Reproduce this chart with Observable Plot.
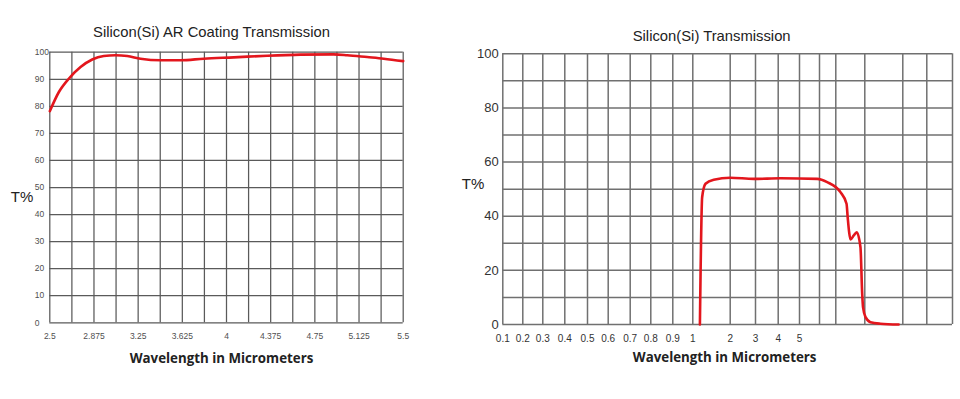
<!DOCTYPE html>
<html><head><meta charset="utf-8">
<script src="https://cdn.jsdelivr.net/npm/d3@7"></script>
<script src="https://cdn.jsdelivr.net/npm/@observablehq/plot@0.6"></script>
<style>
html,body{margin:0;padding:0;background:#fff;}
#wrap{display:flex;width:960px;height:399px;overflow:hidden;}
#wrap svg{display:block;flex:none;}
</style></head><body><div id="wrap"></div>
<script>
// ---------- Left chart: Silicon(Si) AR Coating Transmission ----------
const arTitle = "Silicon(Si) AR Coating Transmission";
const arWavelength = [2.5, 2.576, 2.661, 2.761, 2.86, 2.958, 3.058, 3.157, 3.27, 3.44, 3.61, 3.807, 4.062, 4.345, 4.628, 4.91, 5.025, 5.194, 5.335, 5.5];
const arTransmission = [78.2, 85.2, 90.2, 94.5, 97.3, 98.6, 98.9, 98.6, 97.6, 97.0, 97.0, 97.6, 98.1, 98.7, 99.1, 99.2, 98.9, 98.2, 97.6, 96.7];
const arXTicks = [2.5, 2.875, 3.25, 3.625, 4, 4.375, 4.75, 5.125, 5.5];
const arYTicks = [0, 10, 20, 30, 40, 50, 60, 70, 80, 90, 100];

// ---------- Right chart: Silicon(Si) Transmission ----------
const siTitle = "Silicon(Si) Transmission";
const siWavelength = [1.19, 1.25, 1.34, 1.56, 2.0, 2.93, 4.11, 5.885, 6.47, 7.16, 7.37, 7.41, 7.46, 7.507, 7.62, 7.72, 7.85, 7.91, 7.94, 8.02, 8.15, 8.41, 8.89];
const siTransmission = [0, 47, 52, 53.5, 54.2, 53.8, 54, 53.8, 52.6, 48.9, 44.6, 39.6, 34.1, 31.4, 32.9, 34.1, 28.6, 11.4, 6.3, 2.7, 0.85, 0.3, 0];
const siGridValues = [0.1, 0.2, 0.3, 0.4, 0.5, 0.6, 0.7, 0.8, 0.9, 1, 2, 3, 4, 5, 6, 7, 8, 9, 10, 11];
const siXTicks = [0.1, 0.2, 0.3, 0.4, 0.5, 0.6, 0.7, 0.8, 0.9, 1, 2, 3, 4, 5];
const siYTicks = [0, 20, 40, 60, 80, 100];
const siYGrid = [0, 10, 20, 30, 40, 50, 60, 70, 80, 90, 100];

const xTitle = "Wavelength in Micrometers";
const yTitle = "T%";

// ---------- layout / style ----------
const H = 399, W1 = 450, W2 = 510;
const red = "#e3161d";
const sans = "'Liberation Sans', Arial, sans-serif";
// the right chart's axis is hand-drawn and uneven: piecewise pixel positions of its gridlines
const siGridPx = [502.3, 522.3, 542.3, 564.3, 587, 607.7, 629.7, 650.3, 672.3, 692.3, 729.7, 755, 777.7, 799, 819, 835.3, 864.3, 902.3, 926.3, 952].map(p => p - W1);

const arData = arWavelength.map((x, i) => ({x, y: arTransmission[i]}));
const siData = siWavelength.map((x, i) => ({x, y: siTransmission[i]}));
const arGrid = d3.range(17).map(i => 2.5 + i * 0.1875);

const left = Plot.plot({
  width: W1, height: H,
  marginLeft: 49.3, marginRight: W1 - 402.7, marginTop: 51.7, marginBottom: H - 322.3,
  x: {domain: [2.5, 5.5]},
  y: {domain: [0, 100]},
  style: {fontFamily: sans, background: "white", overflow: "visible"},
  marks: [
    Plot.ruleX(arGrid, {stroke: "#5a5a5a", strokeWidth: 1.25}),
    Plot.ruleY(arYTicks, {stroke: "#5a5a5a", strokeWidth: 1.25}),
    Plot.axisX({ticks: arXTicks, tickSize: 0, tickPadding: 10, fontSize: 8.5, fill: "#505050", label: null, tickFormat: d => String(d)}),
    Plot.axisY({ticks: arYTicks, tickSize: 0, tickPadding: 15, textAnchor: "start", fontSize: 8.5, fill: "#505050", label: null, tickFormat: d => String(d)}),
    Plot.line(arData, {x: "x", y: "y", stroke: red, strokeWidth: 2.6, curve: "monotone-x"}),
    Plot.text([arTitle], {text: d => d, frameAnchor: "top", lineAnchor: "middle", textAnchor: "middle", dy: -19.5, dx: -15, fontSize: 14.8, fill: "#222"}),
    Plot.text([xTitle], {text: d => d, frameAnchor: "bottom", lineAnchor: "middle", textAnchor: "middle", dy: 35.7, dx: -5, fontSize: 13.3, fontWeight: "bold", fontFamily: "'Open Sans', sans-serif", fill: "#222"}),
    Plot.text([yTitle], {text: d => d, frameAnchor: "left", lineAnchor: "middle", textAnchor: "middle", dx: -27.8, dy: 9.7, fontSize: 15, fill: "#222"})
  ]
});

const right = Plot.plot({
  width: W2, height: H,
  marginLeft: 502.3 - W1, marginRight: W1 + W2 - 952, marginTop: 53.3, marginBottom: H - 324,
  x: {type: "linear", domain: siGridValues, range: siGridPx},
  y: {domain: [0, 100]},
  style: {fontFamily: sans, background: "white", overflow: "visible"},
  marks: [
    Plot.ruleX(siGridValues, {stroke: "#707070", strokeWidth: 1.5}),
    Plot.ruleY(siYGrid, {stroke: "#707070", strokeWidth: 1.5}),
    Plot.axisX({ticks: siXTicks, tickSize: 0, tickPadding: 10, fontSize: 10, fill: "#333", label: null, tickFormat: d => String(d)}),
    Plot.axisY({ticks: siYTicks, tickSize: 0, tickPadding: 4, fontSize: 13, fill: "#333", label: null, tickFormat: d => String(d)}),
    Plot.line(siData, {x: "x", y: "y", stroke: red, strokeWidth: 2.6, curve: "monotone-x"}),
    Plot.text([siTitle], {text: d => d, frameAnchor: "top", lineAnchor: "middle", textAnchor: "middle", dy: -17.6, dx: -16, fontSize: 14.8, fill: "#222"}),
    Plot.text([xTitle], {text: d => d, frameAnchor: "bottom", lineAnchor: "middle", textAnchor: "middle", dy: 33.7, dx: -3, fontSize: 13.3, fontWeight: "bold", fontFamily: "'Open Sans', sans-serif", fill: "#222"}),
    Plot.text([yTitle], {text: d => d, frameAnchor: "left", lineAnchor: "middle", textAnchor: "middle", dx: -29.8, dy: -5.4, fontSize: 15, fill: "#222"})
  ]
});

document.getElementById("wrap").append(left, right);
</script>
</body></html>
